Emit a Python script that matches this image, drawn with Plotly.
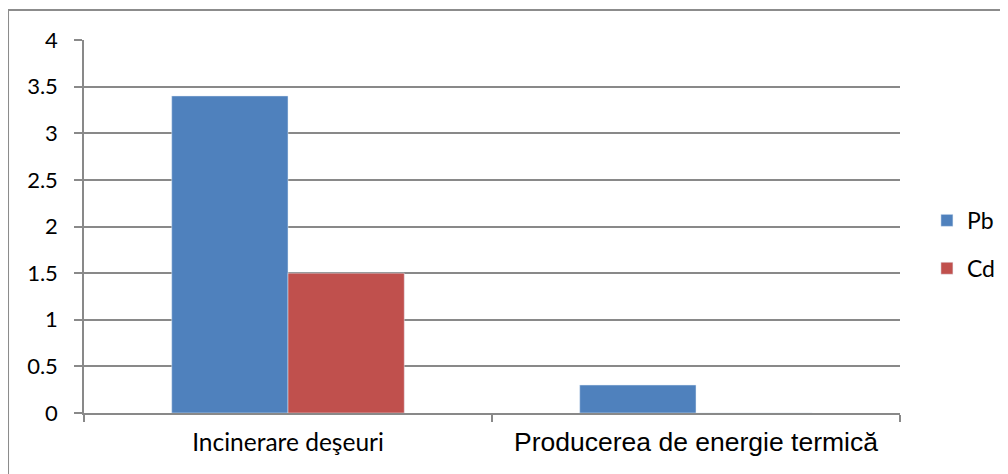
import plotly.graph_objects as go

categories = ["Incinerare deşeuri", "Producerea de energie termică"]
pb_values = [3.4, 0.3]
cd_values = [1.5, 0.0]
y_ticks = [0, 0.5, 1, 1.5, 2, 2.5, 3, 3.5, 4]

# the two category labels use different fonts/sizes in the original
tick_text = [
    f'<span style="font-family:Lato;font-size:24.5px">{categories[0]}</span>',
    f'<span style="font-family:Liberation Sans, Arial;font-size:26.5px">{categories[1]}</span>',
]

GRID = '#898989'

fig = go.Figure()
fig.add_trace(go.Bar(x=categories, y=pb_values, name='Pb', legendgroup='pb',
                     marker=dict(color='#4F81BD')))
fig.add_trace(go.Bar(x=categories, y=cd_values, name='Cd', legendgroup='cd',
                     marker=dict(color='#C0504D')))

# page has an 8px body margin, so the figure is drawn 8px smaller and offset
fig.update_layout(
    width=1000, height=466,
    margin=dict(l=76, r=108, t=32, b=61, autoexpand=False),
    plot_bgcolor='white', paper_bgcolor='white',
    barmode='group', bargap=0.43, bargroupgap=0,
    font=dict(family='Lato, Carlito, sans-serif', size=22, color='black'),
    showlegend=True,
    legend=dict(x=1.033, xanchor='left', y=0.574, yanchor='top',
                font=dict(size=23), tracegroupgap=15, itemwidth=30,
                bgcolor='rgba(0,0,0,0)'),
    shapes=[dict(type='rect', xref='paper', yref='paper',
                 x0=-0.0931, x1=1.2, y0=-0.3, y1=1.0804,
                 line=dict(color='#8C8C8C', width=2), layer='below')],
)

fig.update_yaxes(range=[0, 4], tickvals=y_ticks, ticktext=[f'{v:g}' for v in y_ticks],
                 showgrid=True, gridcolor=GRID, gridwidth=1.5,
                 showline=True, linecolor=GRID, linewidth=1.5,
                 ticks='outside', ticklen=8, tickcolor=GRID, tickwidth=1.5,
                 zeroline=False, fixedrange=True, ticklabelstandoff=12)
fig.update_xaxes(tickvals=categories, ticktext=tick_text, tickson='boundaries',
                 ticks='outside', ticklen=7, tickcolor=GRID, tickwidth=1.5,
                 showline=True, linecolor=GRID, linewidth=1.5,
                 showgrid=False, fixedrange=True, ticklabelstandoff=10)

fig.write_html("out.html")
